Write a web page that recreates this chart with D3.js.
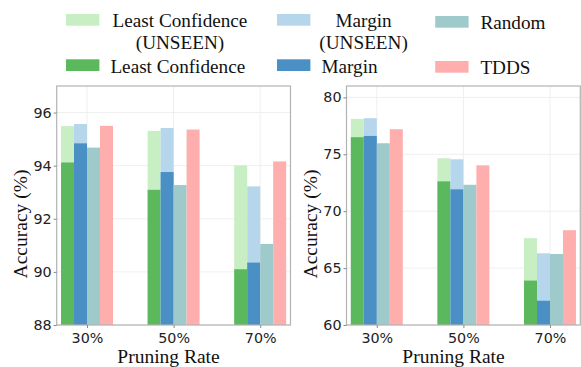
<!DOCTYPE html>
<html>
<head>
<meta charset="utf-8">
<script src="https://cdn.jsdelivr.net/npm/d3@7/dist/d3.min.js"></script>
<style>
  html, body { margin: 0; padding: 0; background: #fff; }
  svg { display: block; }
</style>
</head>
<body>
<svg id="chart" width="581" height="367"></svg>
<script>
// ---- data ----
const categories = ["30%", "50%", "70%"];

// left panel
const lcUnseenA     = [95.49, 95.31, 94.01];
const lcA           = [94.12, 93.09, 90.10];
const marginUnseenA = [95.57, 95.42, 93.22];
const marginA       = [94.84, 93.76, 90.35];
const randomA       = [94.68, 93.27, 91.05];
const tddsA         = [95.50, 95.36, 94.16];
const yTicksA       = [88, 90, 92, 94, 96];
const yDomainA      = [88, 97];

// right panel
const lcUnseenB     = [78.11, 74.65, 67.63];
const lcB           = [76.50, 72.62, 63.90];
const marginUnseenB = [78.17, 74.56, 66.30];
const marginB       = [76.61, 71.92, 62.13];
const randomB       = [75.97, 72.32, 66.24];
const tddsB         = [77.20, 74.03, 68.33];
const yTicksB       = [60, 65, 70, 75, 80];
const yDomainB      = [60, 81];

const legendLabels = ["Least Confidence\n(UNSEEN)", "Least Confidence", "Margin\n(UNSEEN)", "Margin", "Random", "TDDS"];

// ---- style ----
const C = {
  lcLight: "#c8eec4", lc: "#5cb85c",
  mLight: "#b6d6eb", m: "#4a90c4",
  random: "#9fcacb", tdds: "#ffaeae"
};
const serif = "'Liberation Serif', 'Times New Roman', serif";
const sans = "'DejaVu Sans', sans-serif";

const svg = d3.select("#chart");
const plotTop = 86, plotBottom = 325;
const barW = 0.15;

function panel(x0, x1, yDomain, yTicks, d, xlabelX, ylabelX) {
  const x = d3.scaleLinear().domain([-0.35, 2.35]).range([x0, x1]);
  const y = d3.scaleLinear().domain(yDomain).range([plotBottom, plotTop]);
  const g = svg.append("g");

  // grid
  g.selectAll(".gy").data(yTicks).join("line")
    .attr("x1", x0).attr("x2", x1)
    .attr("y1", v => y(v)).attr("y2", v => y(v))
    .attr("stroke", "#efefef").attr("stroke-width", 1);
  g.selectAll(".gx").data(categories).join("line")
    .attr("x1", (c, i) => x(i)).attr("x2", (c, i) => x(i))
    .attr("y1", plotTop).attr("y2", plotBottom)
    .attr("stroke", "#efefef").attr("stroke-width", 1);

  const series = [
    { vals: d.lcU, color: C.lcLight, off: -1.5 },
    { vals: d.lc, color: C.lc, off: -1.5 },
    { vals: d.mU, color: C.mLight, off: -0.5 },
    { vals: d.m, color: C.m, off: -0.5 },
    { vals: d.r, color: C.random, off: 0.5 },
    { vals: d.t, color: C.tdds, off: 1.5 }
  ];
  series.forEach(s => {
    g.selectAll(null).data(s.vals).join("rect")
      .attr("x", (v, i) => x(i + (s.off - 0.5) * barW))
      .attr("width", (v, i) => x(i + (s.off + 0.5) * barW) - x(i + (s.off - 0.5) * barW))
      .attr("y", v => y(v))
      .attr("height", v => y(yDomain[0]) - y(v))
      .attr("fill", s.color);
  });

  // frame
  g.append("rect")
    .attr("x", x0).attr("y", plotTop)
    .attr("width", x1 - x0).attr("height", plotBottom - plotTop)
    .attr("fill", "none").attr("stroke", "#b3b3b3").attr("stroke-width", 1.2);

  // y axis
  const ya = d3.axisLeft(y).tickValues(yTicks).tickSize(3).tickPadding(2).tickFormat(d3.format("d"));
  const yg = g.append("g").attr("transform", `translate(${x0},0)`).call(ya);
  yg.select(".domain").remove();
  yg.selectAll(".tick line").attr("stroke", "#888");
  yg.selectAll(".tick text").attr("font-family", sans).attr("font-size", 14.3).attr("fill", "#222");

  // x axis
  const xa = d3.axisBottom(x).tickValues([0, 1, 2]).tickSize(3).tickPadding(5)
    .tickFormat(i => categories[i]);
  const xg = g.append("g").attr("transform", `translate(0,${plotBottom})`).call(xa);
  xg.select(".domain").remove();
  xg.selectAll(".tick line").attr("stroke", "#888");
  xg.selectAll(".tick text").attr("font-family", sans).attr("font-size", 14.3).attr("fill", "#222");

  // labels
  g.append("text").attr("x", xlabelX).attr("y", 363)
    .attr("text-anchor", "middle").attr("font-family", serif).attr("font-size", 19.5)
    .attr("fill", "#111").text("Pruning Rate");
  g.append("text")
    .attr("transform", `translate(${ylabelX},224) rotate(-90)`)
    .attr("text-anchor", "middle").attr("font-family", serif).attr("font-size", 19.5)
    .attr("fill", "#111").text("Accuracy (%)");
}

panel(56.7, 290.5, yDomainA, yTicksA,
  { lcU: lcUnseenA, lc: lcA, mU: marginUnseenA, m: marginA, r: randomA, t: tddsA }, 168.5, 26.7);
panel(346.5, 580.3, yDomainB, yTicksB,
  { lcU: lcUnseenB, lc: lcB, mU: marginUnseenB, m: marginB, r: randomB, t: tddsB }, 453.5, 316.5);

// ---- legend ----
const legendColors = [C.lcLight, C.lc, C.mLight, C.m, C.random, C.tdds];
const legendItems = [
  { sx: 66, sy: 14, tx: 180, ty: 26.7, multi: true },
  { sx: 66, sy: 59.3, tx: 110.4, ty: 72.7, multi: false },
  { sx: 277, sy: 14, tx: 363.6, ty: 26.7, multi: true },
  { sx: 277, sy: 59.3, tx: 321.5, ty: 72.7, multi: false },
  { sx: 435.2, sy: 16, tx: 480.4, ty: 28.5, multi: false },
  { sx: 435.2, sy: 61, tx: 480.4, ty: 73.5, multi: false }
];
const lg = svg.append("g");
legendItems.forEach((it, k) => {
  lg.append("rect").attr("x", it.sx).attr("y", it.sy).attr("width", 33.4).attr("height", 11.7)
    .attr("fill", legendColors[k]);
  const lines = legendLabels[k].split("\n");
  const t = lg.append("text").attr("font-family", serif).attr("font-size", 19.2).attr("fill", "#111")
    .attr("text-anchor", it.multi ? "middle" : "start");
  lines.forEach((ln, j) => {
    t.append("tspan").attr("x", it.tx).attr("y", it.ty + j * 22).text(ln);
  });
});
</script>
</body>
</html>
